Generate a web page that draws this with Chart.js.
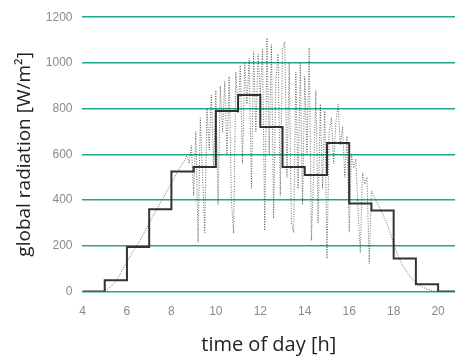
<!DOCTYPE html>
<html>
<head>
<meta charset="utf-8">
<script src="https://cdn.jsdelivr.net/npm/chart.js@4"></script>
<style>
  html, body { margin: 0; padding: 0; background: #fff; }
  #wrap { width: 455px; height: 357px; position: relative; }
</style>
</head>
<body>
<div id="wrap"><canvas id="radChart"></canvas></div>
<script>
// hourly means (value holds from hour to next hour)
const hourStarts = [4, 5, 6, 7, 8, 9, 10, 11, 12, 13, 14, 15, 16, 17, 18, 19, 20, 20.76];
const hourlyMeans = [0, 50, 195, 360, 525, 545, 790, 860, 720, 545, 510, 650, 385, 355, 145, 32, 0, 0];

// minute-ish samples
const sampleTimes = [
  4.8, 4.9, 5.0, 5.1, 5.2, 5.3, 5.4, 5.5, 5.6, 5.7, 5.8, 5.9,
  6.0, 6.1, 6.2, 6.3, 6.4, 6.5, 6.6, 6.7, 6.8, 6.9,
  7.0, 7.1, 7.2, 7.3, 7.4, 7.5, 7.6, 7.7, 7.8, 7.9,
  8.0, 8.1, 8.2, 8.3, 8.4, 8.5, 8.6, 8.7, 8.8, 8.9,
  9.0, 9.1, 9.2, 9.3, 9.4, 9.5, 9.6, 9.7, 9.8, 9.9,
  10.0, 10.1, 10.2, 10.3, 10.4, 10.5, 10.6, 10.7, 10.8, 10.9,
  11.0, 11.1, 11.2, 11.3, 11.4, 11.5, 11.6, 11.7, 11.8, 11.9,
  12.0, 12.1, 12.2, 12.3, 12.4, 12.5, 12.6, 12.7, 12.8, 12.9,
  13.0, 13.1, 13.2, 13.3, 13.4, 13.5, 13.6, 13.7, 13.8, 13.9,
  14.0, 14.1, 14.2, 14.3, 14.4, 14.5, 14.6, 14.7, 14.8, 14.9,
  15.0, 15.1, 15.2, 15.3, 15.4, 15.5, 15.6, 15.7, 15.8, 15.9,
  16.0, 16.1, 16.2, 16.3, 16.4, 16.5, 16.6, 16.7, 16.8, 16.9,
  17.0, 17.1, 17.2, 17.3, 17.4, 17.5, 17.6, 17.7, 17.8, 17.9,
  18.0, 18.1, 18.2, 18.3, 18.4, 18.5, 18.6, 18.7, 18.8, 18.9,
  19.0, 19.1, 19.2, 19.3, 19.4, 19.5, 19.6, 19.7, 19.8, 19.9,
  20.0, 20.1, 20.2, 20.3, 20.4, 20.5
];
const sampleValues = [
  0, 0, 2, 8, 15, 25, 35, 48, 62, 78, 95, 112,
  130, 148, 165, 180, 195, 210, 225, 245, 262, 280,
  300, 318, 335, 352, 370, 388, 405, 422, 440, 458,
  475, 492, 510, 528, 545, 560, 575, 595, 560, 640,
  420, 700, 215, 760, 520, 258, 800, 620, 860, 540,
  880, 380, 900, 700, 920, 600, 940, 400, 255, 960,
  780, 990, 560, 1000, 820, 1020, 450, 1050, 700, 1040,
  860, 1060, 267, 1110, 600, 1080, 320, 920, 1040, 420,
  1060, 1092, 500, 1000, 300, 258, 960, 450, 1000, 380,
  940, 600, 1066, 223, 520, 880, 300, 820, 450, 790,
  145, 700, 760, 560, 740, 820, 640, 720, 500, 680,
  260, 600, 540, 580, 350, 170, 520, 470, 500, 123,
  440, 420, 400, 380, 360, 340, 320, 300, 270, 240,
  210, 180, 155, 135, 115, 100, 85, 72, 60, 50,
  40, 32, 26, 20, 15, 11, 8, 5, 3, 2,
  1, 0, 0, 0, 0, 0
];

const xTicks = [4, 6, 8, 10, 12, 14, 16, 18, 20];
const yTicks = [0, 200, 400, 600, 800, 1000, 1200];

const teal = "#1fa88e";
const tickFont = { family: "Liberation Sans", size: 12 };

const ctx = document.getElementById("radChart").getContext("2d");

new Chart(ctx, {
  type: "line",
  data: {
    datasets: [
      {
        label: "samples",
        data: sampleTimes.map((t, i) => ({ x: t, y: sampleValues[i] })),
        borderColor: "rgba(30,30,30,0.65)",
        borderWidth: 1,
        borderDash: [1, 1.5],
        pointRadius: 0,
        tension: 0,
        fill: false
      },
      {
        label: "hourly",
        data: hourStarts.map((t, i) => ({ x: t, y: hourlyMeans[i] })),
        borderColor: "#333",
        borderWidth: 2,
        stepped: "before",
        pointRadius: 0,
        fill: false
      }
    ]
  },
  options: {
    responsive: true,
    maintainAspectRatio: false,
    animation: false,
    layout: { padding: { top: 14, right: 0, left: 13, bottom: 0 } },
    plugins: { legend: { display: false }, tooltip: { enabled: false } },
    scales: {
      x: {
        type: "linear",
        min: 4,
        max: 20.76,
        afterBuildTicks: (axis) => { axis.ticks = xTicks.map((v) => ({ value: v })); },
        grid: { display: false },
        border: { display: false },
        ticks: { color: "#8a8a8a", font: tickFont, padding: 5, maxRotation: 0, callback: (v) => String(v) },
        title: { display: true, text: "time of day [h]", color: "#222", font: { family: "Open Sans", size: 20 }, padding: { top: 9, bottom: 0 } }
      },
      y: {
        min: 0,
        max: 1200,
        afterBuildTicks: (axis) => { axis.ticks = yTicks.map((v) => ({ value: v })); },
        grid: { color: teal, lineWidth: 1.5, drawTicks: false },
        border: { display: false },
        ticks: { color: "#8a8a8a", font: tickFont, padding: 10, callback: (v) => String(v) },
        title: { display: true, text: "global radiation [W/m²]", color: "#222", font: { family: "Open Sans", size: 19 }, padding: { top: 0, bottom: 0 } }
      }
    }
  }
});
</script>
</body>
</html>
